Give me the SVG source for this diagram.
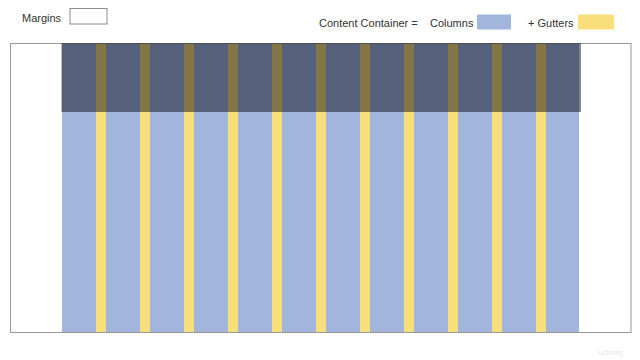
<svg xmlns="http://www.w3.org/2000/svg" width="640" height="360" viewBox="0 0 640 360">
<style>
.t{font-family:"Liberation Sans",Arial,sans-serif;font-size:11px;fill:#333}
.col{fill:#A1B5DD}
.gut{fill:#F9DE7C}
</style>
<rect width="640" height="360" fill="#fff"/>
<g id="legend-margins">
<text class="t" x="22" y="21.5">Margins</text>
<rect x="70" y="8.5" width="37" height="15.5" fill="#fff" stroke="#8a8a8a" stroke-width="1"/>
</g>
<g id="legend-content">
<text class="t" x="319" y="26.5">Content Container =</text>
<text class="t" x="430" y="26.5">Columns</text>
<rect class="col" x="477" y="14.5" width="34" height="15"/>
<text class="t" x="528" y="26.5">+ Gutters</text>
<rect class="gut" x="578" y="14.5" width="36" height="15"/>
</g>
<g id="frame">
<rect x="10.5" y="43.5" width="620.5" height="289" fill="#fff" stroke="#999" stroke-width="1"/>
</g>
<g id="grid">
<rect class="col" x="62" y="44" width="517" height="288"/>
<rect class="gut" x="96" y="44" width="10" height="288"/>
<rect class="gut" x="140" y="44" width="10" height="288"/>
<rect class="gut" x="184" y="44" width="10" height="288"/>
<rect class="gut" x="228" y="44" width="10" height="288"/>
<rect class="gut" x="272" y="44" width="10" height="288"/>
<rect class="gut" x="316" y="44" width="10" height="288"/>
<rect class="gut" x="360" y="44" width="10" height="288"/>
<rect class="gut" x="404" y="44" width="10" height="288"/>
<rect class="gut" x="448" y="44" width="10" height="288"/>
<rect class="gut" x="492" y="44" width="10" height="288"/>
<rect class="gut" x="536" y="44" width="10" height="288"/>
</g>
<g id="overlay">
<rect x="61.5" y="43" width="519.5" height="69" fill="#00000a" fill-opacity="0.47"/>
</g>
<text x="598" y="355" style="font-family:'Liberation Sans',Arial,sans-serif;font-size:8px;fill:#e6e6e6">Udemy</text>
</svg>
